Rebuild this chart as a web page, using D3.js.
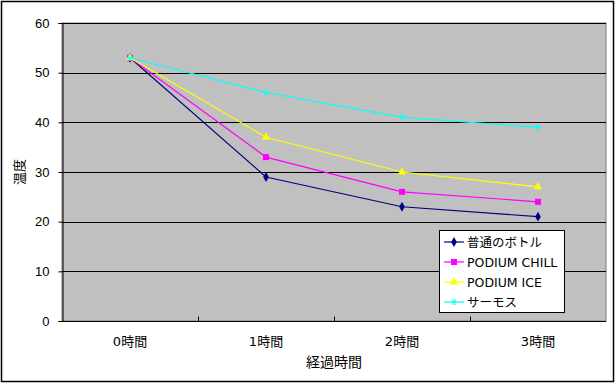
<html>
<head>
<meta charset="utf-8">
<style>
  body { margin: 0; background: #fff; }
  text { font-family: "DejaVu Sans", "Noto Sans CJK JP", sans-serif; font-size: 12px; fill: #000; }
</style>
</head>
<body>
<div id="graph"></div>
<script src="https://cdnjs.cloudflare.com/ajax/libs/d3/7.8.5/d3.min.js"></script>
<script>
var categories = ["0時間", "1時間", "2時間", "3時間"];
var seriesNames = ["普通のボトル", "PODIUM CHILL", "PODIUM ICE", "サーモス"];
var bottle = [53, 29, 23, 21];
var chill = [53, 33, 26, 24];
var ice = [53, 37, 30, 27];
var thermos = [53, 46, 41, 39];
var yTicks = [0, 10, 20, 30, 40, 50, 60];

var series = [
  { name: seriesNames[0], values: bottle, color: "#000080", marker: "diamond" },
  { name: seriesNames[1], values: chill, color: "#ff00ff", marker: "square" },
  { name: seriesNames[2], values: ice, color: "#ffff00", marker: "triangle" },
  { name: seriesNames[3], values: thermos, color: "#00ffff", marker: "star" }
];

var W = 616, H = 384;
var plot = { left: 62, right: 606, top: 23, bottom: 321 };

var svg = d3.select("#graph").append("svg")
  .attr("width", W).attr("height", H);

// outer chart border
svg.append("rect").attr("x", 1.5).attr("y", 1.5)
  .attr("width", W - 4).attr("height", H - 4)
  .attr("fill", "#fff").attr("stroke", "#000").attr("stroke-width", 1.5);

var x = d3.scaleBand().domain(categories).range([plot.left, plot.right]);
var y = d3.scaleLinear().domain([0, 60]).range([plot.bottom, plot.top]);

// plot background
svg.append("rect")
  .attr("x", plot.left).attr("y", plot.top)
  .attr("width", plot.right - plot.left).attr("height", plot.bottom - plot.top)
  .attr("fill", "#c0c0c0").attr("stroke", "#808080");

// gridlines
svg.append("g").selectAll("line").data(yTicks.slice(1)).enter().append("line")
  .attr("x1", plot.left).attr("x2", plot.right)
  .attr("y1", function(d) { return Math.round(y(d)) + 0.5; })
  .attr("y2", function(d) { return Math.round(y(d)) + 0.5; })
  .attr("stroke", "#000");

// y axis
var yAxis = svg.append("g").attr("transform", "translate(" + (plot.left + 0.5) + ",0)")
  .call(d3.axisLeft(y).tickValues(yTicks).tickSize(4).tickPadding(9));
yAxis.select(".domain").attr("stroke", "#000");
yAxis.selectAll("text").style("font-size", "13px").style("font-family", "Liberation Sans, Arial, sans-serif");

// x axis
var xAxis = svg.append("g").attr("transform", "translate(0," + (plot.bottom + 0.5) + ")");
xAxis.append("line").attr("x1", plot.left).attr("x2", plot.right).attr("stroke", "#000");
xAxis.selectAll("line.tick").data(categories.slice(1)).enter().append("line")
  .attr("class", "tick")
  .attr("x1", function(d) { return Math.round(x(d)) + 0.5; })
  .attr("x2", function(d) { return Math.round(x(d)) + 0.5; })
  .attr("y1", 0).attr("y2", -5).attr("stroke", "#000");
xAxis.selectAll("text").data(categories).enter().append("text")
  .attr("x", function(d) { return x(d) + x.bandwidth() / 2; })
  .attr("y", 24)
  .attr("text-anchor", "middle")
  .style("font-size", "13px")
  .text(function(d) { return d; });

// axis titles
svg.append("text").attr("x", 334).attr("y", 367).attr("text-anchor", "middle")
  .style("font-size", "14px").text("経過時間");
svg.append("text").attr("transform", "translate(24,172) rotate(-90)")
  .attr("text-anchor", "middle").style("font-size", "13px").text("温度");

var line = d3.line()
  .x(function(d, i) { return x(categories[i]) + x.bandwidth() / 2; })
  .y(function(d) { return y(d); });

function drawMarker(g, type, color, cx, cy) {
  if (type === "diamond") {
    g.append("path").attr("d", d3.symbol().type(d3.symbolDiamond).size(28)())
      .attr("transform", "translate(" + cx + "," + cy + ")").attr("fill", color);
  } else if (type === "square") {
    g.append("rect").attr("x", cx - 3).attr("y", cy - 3).attr("width", 6).attr("height", 6).attr("fill", color);
  } else if (type === "triangle") {
    g.append("path").attr("d", d3.symbol().type(d3.symbolTriangle).size(30)())
      .attr("transform", "translate(" + cx + "," + cy + ")").attr("fill", color);
  } else {
    g.append("path").attr("d", "M" + (cx - 3) + "," + cy + "H" + (cx + 3) +
      "M" + (cx - 1) + "," + (cy - 3) + "V" + (cy + 3) + "M" + (cx + 1) + "," + (cy - 3) + "V" + (cy + 3))
      .attr("stroke", color).attr("stroke-width", 1).attr("fill", "none");
  }
}

series.forEach(function(s) {
  var g = svg.append("g");
  g.append("path").datum(s.values).attr("d", line)
    .attr("fill", "none").attr("stroke", s.color).attr("stroke-width", 1.2);
  s.values.forEach(function(v, i) {
    drawMarker(g, s.marker, s.color, x(categories[i]) + x.bandwidth() / 2, y(v));
  });
});

// legend
var lg = svg.append("g");
lg.append("rect").attr("x", 439.5).attr("y", 230.5).attr("width", 125).attr("height", 82)
  .attr("fill", "#fff").attr("stroke", "#000");
series.forEach(function(s, i) {
  var ly = 242 + i * 20;
  lg.append("line").attr("x1", 444).attr("x2", 464).attr("y1", ly).attr("y2", ly)
    .attr("stroke", s.color).attr("stroke-width", 1.2);
  drawMarker(lg, s.marker, s.color, 454, ly);
  lg.append("text").attr("x", 467).attr("y", ly + 5).style("font-size", "12.5px").text(s.name);
});
</script>
</body>
</html>
